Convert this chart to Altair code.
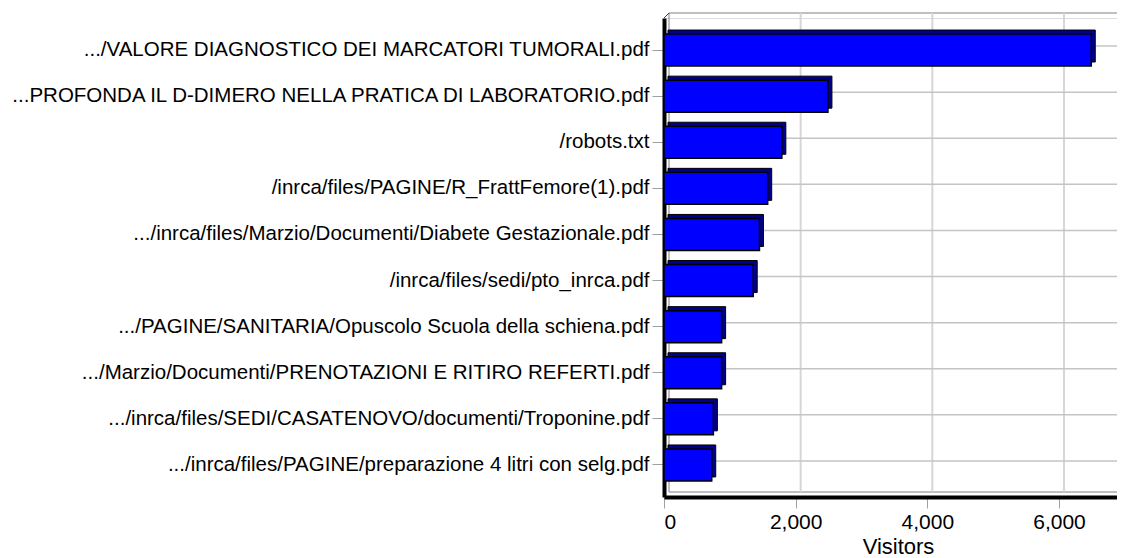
import altair as alt
import pandas as pd

pages = [
    ".../VALORE DIAGNOSTICO DEI MARCATORI TUMORALI.pdf",
    "...PROFONDA IL D-DIMERO NELLA PRATICA DI LABORATORIO.pdf",
    "/robots.txt",
    "/inrca/files/PAGINE/R_FrattFemore(1).pdf",
    ".../inrca/files/Marzio/Documenti/Diabete Gestazionale.pdf",
    "/inrca/files/sedi/pto_inrca.pdf",
    ".../PAGINE/SANITARIA/Opuscolo Scuola della schiena.pdf",
    ".../Marzio/Documenti/PRENOTAZIONI E RITIRO REFERTI.pdf",
    ".../inrca/files/SEDI/CASATENOVO/documenti/Troponine.pdf",
    ".../inrca/files/PAGINE/preparazione 4 litri con selg.pdf",
]
visitors = [6490, 2490, 1790, 1575, 1450, 1355, 875, 875, 750, 725]
x_ticks = [0, 2000, 4000, 6000]
x_max = 6881

W, H = 453, 479
D = 5  # depth of the back wall
FONT = "Liberation Sans"

df = pd.DataFrame({"page": pages, "Visitors": visitors})
grid_df = pd.DataFrame({"Visitors": x_ticks[1:]})
one = pd.DataFrame({"k": [0]})

xscale = alt.Scale(domain=[0, x_max], nice=False, zero=True)
yscale = alt.Scale(paddingInner=0.306, paddingOuter=0.348)

xaxis = alt.Axis(title="Visitors", values=x_ticks, format=",d", grid=False,
                 domainColor="#000000", domainWidth=4,
                 tickColor="#a0a0a0", tickSize=11, labelPadding=3,
                 labelFontSize=21, labelColor="#000000", labelFont=FONT,
                 titleFontSize=22, titleFontWeight="normal", titleFont=FONT,
                 titleColor="#000000", titleX=234, titleY=56,
                 titleAlign="center", titleBaseline="alphabetic")
yaxis = alt.Axis(title=None, domainColor="#000000", domainWidth=4,
                 tickColor="#a0a0a0", tickSize=12, labelPadding=3,
                 labelFontSize=20.5, labelColor="#000000", labelFont=FONT,
                 labelLimit=700, grid=False)

X = alt.X("Visitors:Q", scale=xscale, axis=xaxis)
Y = alt.Y("page:N", sort=pages, scale=yscale, axis=yaxis)

wall_color = "#808080"

top_line = alt.Chart(one).mark_rule(color=wall_color, strokeWidth=1).encode(
    x=alt.value(D), x2=alt.value(W + 20), y=alt.value(-D))
left_line = alt.Chart(one).mark_rule(color=wall_color, strokeWidth=1).encode(
    x=alt.value(D), y=alt.value(-D), y2=alt.value(H - D))
bottom_line = alt.Chart(one).mark_rule(color=wall_color, strokeWidth=1).encode(
    x=alt.value(D), x2=alt.value(W + 20), y=alt.value(H - D))
diag = alt.Chart(one).mark_rule(color="#404040", strokeWidth=1).encode(
    x=alt.value(0), y=alt.value(0), x2=alt.value(D), y2=alt.value(-D))

vgrid = alt.Chart(grid_df).mark_rule(color="#d6d6d6", strokeWidth=2, xOffset=D).encode(
    x=X, y=alt.value(-D), y2=alt.value(H - D))

hgrid = alt.Chart(df).mark_rule(color="#c4c4c4", strokeWidth=1.5, yOffset=-4).encode(
    y=Y, x=alt.value(D), x2=alt.value(W + 20))

shadow = alt.Chart(df).mark_bar(color="#00008B", stroke="#000000", strokeWidth=1,
                                 xOffset=4, yOffset=-4).encode(x=X, y=Y)

bars = alt.Chart(df).mark_bar(color="#0000FF", stroke="#000000", strokeWidth=1.5).encode(x=X, y=Y)

chart = alt.layer(top_line, left_line, bottom_line, vgrid, hgrid, diag, shadow, bars).properties(
    width=W, height=H,
    padding={"left": 656, "top": 10, "right": 0, "bottom": 61},
    autosize=alt.AutoSizeParams(type="none"),
).configure_view(stroke=None).configure(background="white")

chart.save("out.html", embed_options={"renderer": "svg", "actions": False})
